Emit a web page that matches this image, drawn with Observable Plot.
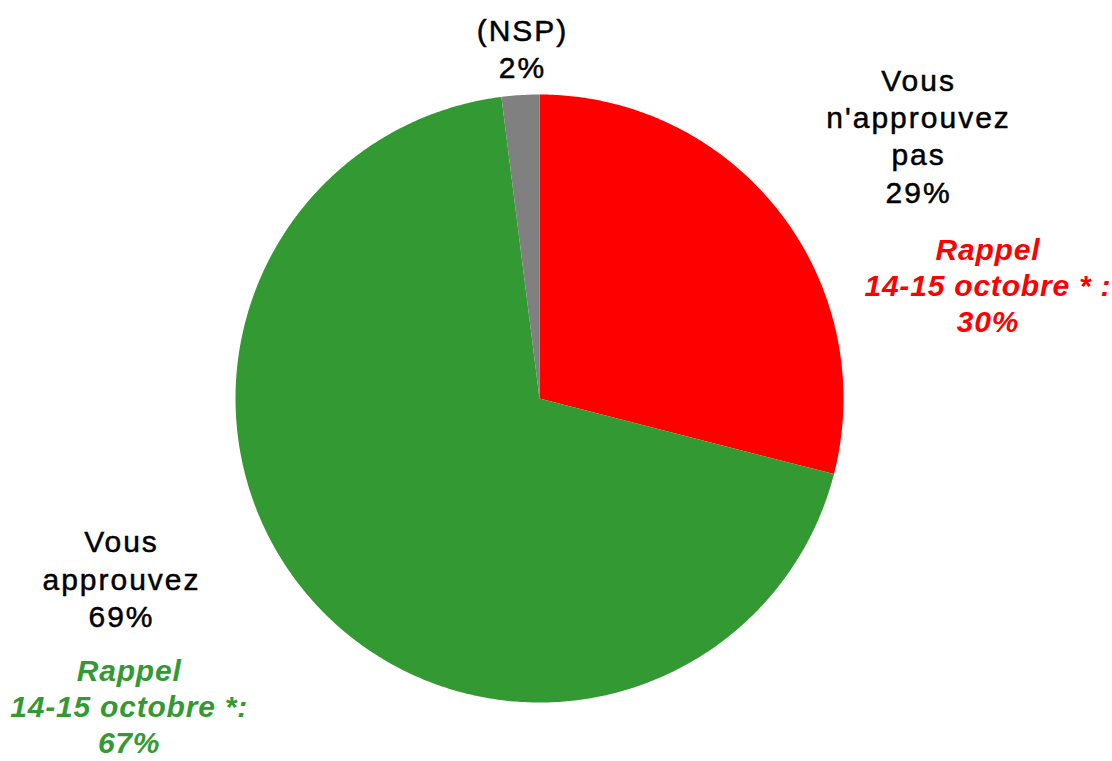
<!DOCTYPE html>
<html><head><meta charset="utf-8">
<script src="https://cdn.jsdelivr.net/npm/d3@7"></script>
<script src="https://cdn.jsdelivr.net/npm/@observablehq/plot@0.6"></script>
<style>
html,body{margin:0;padding:0;background:#fff;overflow:hidden}
svg g[font-style="normal"] text{letter-spacing:2px}
svg g[font-style="italic"] text{letter-spacing:0.8px}
</style>
</head><body><div id="chart"></div>
<script>
// ---- data ----
const categories = ["Vous\nn'approuvez\npas", "Vous\napprouvez", "(NSP)"];
const values = [29, 69, 2];
const colors = ["#ff0000", "#339933", "#808080"];
const recallPrefix = ["Rappel\n14-15 octobre * :", "Rappel\n14-15 octobre *:", null];
const recallValues = [30, 67, null];

// ---- layout (pie radius units) ----
const W = 1112, H = 761, CX = 539, CY = 398, R = 304;
const labelPos = [[1.247, 0.868], [-1.375, -0.590], [-0.056, 1.155]];
const recallPos = [[1.475, 0.376], [-1.350, -1.010], null];

const pie = d3.pie().sort(null).value(d => d.value)(
  categories.map((c, i) => ({category: c, value: values[i], color: colors[i], i}))
);

// polygon outline of each slice
const slicePts = [];
for (const s of pie) {
  const n = Math.max(2, Math.ceil((s.endAngle - s.startAngle) / (Math.PI / 360)));
  slicePts.push({k: s.data.i, x: 0, y: 0});
  for (let j = 0; j <= n; j++) {
    const a = s.startAngle + (s.endAngle - s.startAngle) * j / n;
    slicePts.push({k: s.data.i, x: Math.sin(a), y: Math.cos(a)});
  }
  slicePts.push({k: s.data.i, x: 0, y: 0});
}

const labels = pie.map(s => ({
  text: s.data.category + "\n" + s.data.value + "%",
  x: labelPos[s.data.i][0], y: labelPos[s.data.i][1]
}));
const recalls = pie.filter(s => recallValues[s.data.i] != null).map(s => ({
  text: recallPrefix[s.data.i] + "\n" + recallValues[s.data.i] + "%",
  color: s.data.color,
  x: recallPos[s.data.i][0], y: recallPos[s.data.i][1]
}));

const chart = Plot.plot({
  width: W, height: H,
  margin: 0,
  x: {domain: [-CX / R, (W - CX) / R], axis: null},
  y: {domain: [-(H - CY) / R, CY / R], axis: null},
  style: {fontFamily: "'Liberation Sans', Arial, sans-serif", background: "#fff"},
  marks: [
    Plot.line(slicePts, {x: "x", y: "y", z: "k", fill: d => colors[d.k], stroke: "none", curve: "linear"}),
    Plot.text(labels, {x: "x", y: "y", text: "text", fill: "#000", stroke: "#000", strokeWidth: 0.5, fontSize: 30, fontStyle: "normal", lineHeight: 1.245, lineAnchor: "middle", textAnchor: "middle"}),
    Plot.text(recalls, {x: "x", y: "y", text: "text", fill: d => d.color, fontSize: 30, fontWeight: "bold", fontStyle: "italic", lineHeight: 1.2, lineAnchor: "middle", textAnchor: "middle"})
  ]
});
document.getElementById("chart").appendChild(chart);
</script>
</body></html>
